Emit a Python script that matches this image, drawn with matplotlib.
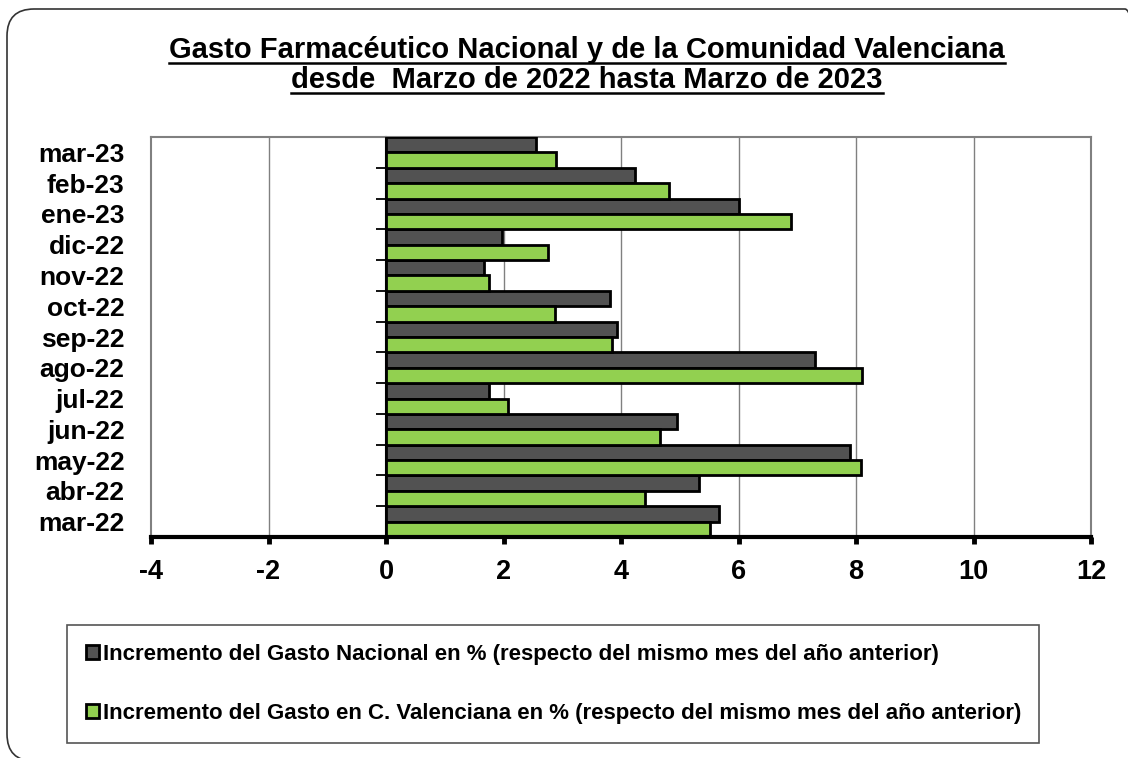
import matplotlib
matplotlib.use("Agg")
import matplotlib.pyplot as plt
import numpy as np
from matplotlib.patches import FancyBboxPatch
from matplotlib.lines import Line2D

plt.rcParams['font.family'] = ['Liberation Sans', 'DejaVu Sans']
plt.rcParams['font.weight'] = 'bold'

# months, bottom to top
months = ["mar-22", "abr-22", "may-22", "jun-22", "jul-22", "ago-22", "sep-22",
          "oct-22", "nov-22", "dic-22", "ene-23", "feb-23", "mar-23"]
nacional = [5.66, 5.32, 7.89, 4.95, 1.76, 7.31, 3.93, 3.81, 1.66, 1.97, 6.01, 4.24, 2.56]
valenciana = [5.51, 4.41, 8.08, 4.66, 2.08, 8.11, 3.84, 2.88, 1.75, 2.75, 6.89, 4.82, 2.90]
xticks = [-4, -2, 0, 2, 4, 6, 8, 10, 12]

label_nac = "Incremento del Gasto Nacional en % (respecto del mismo mes del año anterior)"
label_val = "Incremento del Gasto en C. Valenciana en % (respecto del mismo mes del año anterior)"

fig = plt.figure(figsize=(11.28, 7.58), dpi=100)
ax = fig.add_axes([151 / 1128, 1 - 537 / 758, (1091 - 151) / 1128, (537 - 137) / 758])

# rounded frame round the whole chart (runs off the right and bottom edge)
frame = FancyBboxPatch((0.07, -0.03), 11.45, 7.52, boxstyle="round,pad=0,rounding_size=0.27",
                       transform=fig.dpi_scale_trans, facecolor="none",
                       edgecolor="#333333", linewidth=1.2)
fig.patches.append(frame)

y = np.arange(len(months))
h = 0.5
ax.barh(y + h / 2, nacional, height=h, color="#525252", edgecolor="black",
        linewidth=2, label=label_nac, zorder=3)
ax.barh(y - h / 2, valenciana, height=h, color="#92D050", edgecolor="black",
        linewidth=2, label=label_val, zorder=3)

ax.set_xlim(-4, 12)
ax.set_ylim(-0.5, len(months) - 0.5)
ax.set_xticks(xticks)
ax.set_xticklabels([str(t) for t in xticks], fontsize=19.5, fontweight='bold')
ax.set_yticks(y)
ax.set_yticklabels(months, fontsize=19, fontweight='bold')
ax.tick_params(axis='y', length=0, pad=19)
ax.tick_params(axis='x', length=5, width=3.5, color='black', pad=11)

# vertical grid lines
for t in [-2, 2, 4, 6, 8, 10]:
    ax.axvline(t, color="#808080", linewidth=1, zorder=1)

for s in ['top', 'right', 'left']:
    ax.spines[s].set_color("#808080")
    ax.spines[s].set_linewidth(1.5)
ax.spines['bottom'].set_color('black')
ax.spines['bottom'].set_linewidth(3)
ax.spines['bottom'].set_zorder(5)

# category axis sitting at x = 0
sec = ax.secondary_yaxis(4 / 16)
sec.set_yticks(np.arange(-0.5, len(months), 1.0))
sec.set_yticklabels([])
sec.tick_params(axis='y', length=7, width=1.3, color='black', direction='out')
sec.spines['left'].set_color('black')
sec.spines['left'].set_linewidth(1.5)

# title with underline
t1 = fig.text(587 / 1128, 1 - 50 / 758, "Gasto Farmacéutico Nacional y de la Comunidad Valenciana",
              ha='center', va='center', fontsize=21, fontweight='bold')
t2 = fig.text(587 / 1128, 1 - 80 / 758, "desde  Marzo de 2022 hasta Marzo de 2023",
              ha='center', va='center', fontsize=21, fontweight='bold')

leg = fig.legend(loc='center', bbox_to_anchor=(67 / 1128, 1 - 742 / 758,
                                               (1039 - 67) / 1128, (742 - 626) / 758),
                 mode='expand', borderaxespad=0, fontsize=16, labelspacing=1.7,
                 borderpad=0.85, handlelength=0.6, handleheight=0.6, handletextpad=0.15,
                 fancybox=False, edgecolor="#555555", framealpha=1)
leg.get_frame().set_linewidth(1.2)
for txt in leg.get_texts():
    txt.set_fontweight('bold')

fig.canvas.draw()
renderer = fig.canvas.get_renderer()
for t in (t1, t2):
    bb = t.get_window_extent(renderer)
    yy = (bb.y0 + 1.5) / fig.bbox.height
    fig.add_artist(Line2D([bb.x0 / fig.bbox.width, bb.x1 / fig.bbox.width], [yy, yy],
                          transform=fig.transFigure, color='black', linewidth=1.8))

fig.savefig("out.png", dpi=100)
